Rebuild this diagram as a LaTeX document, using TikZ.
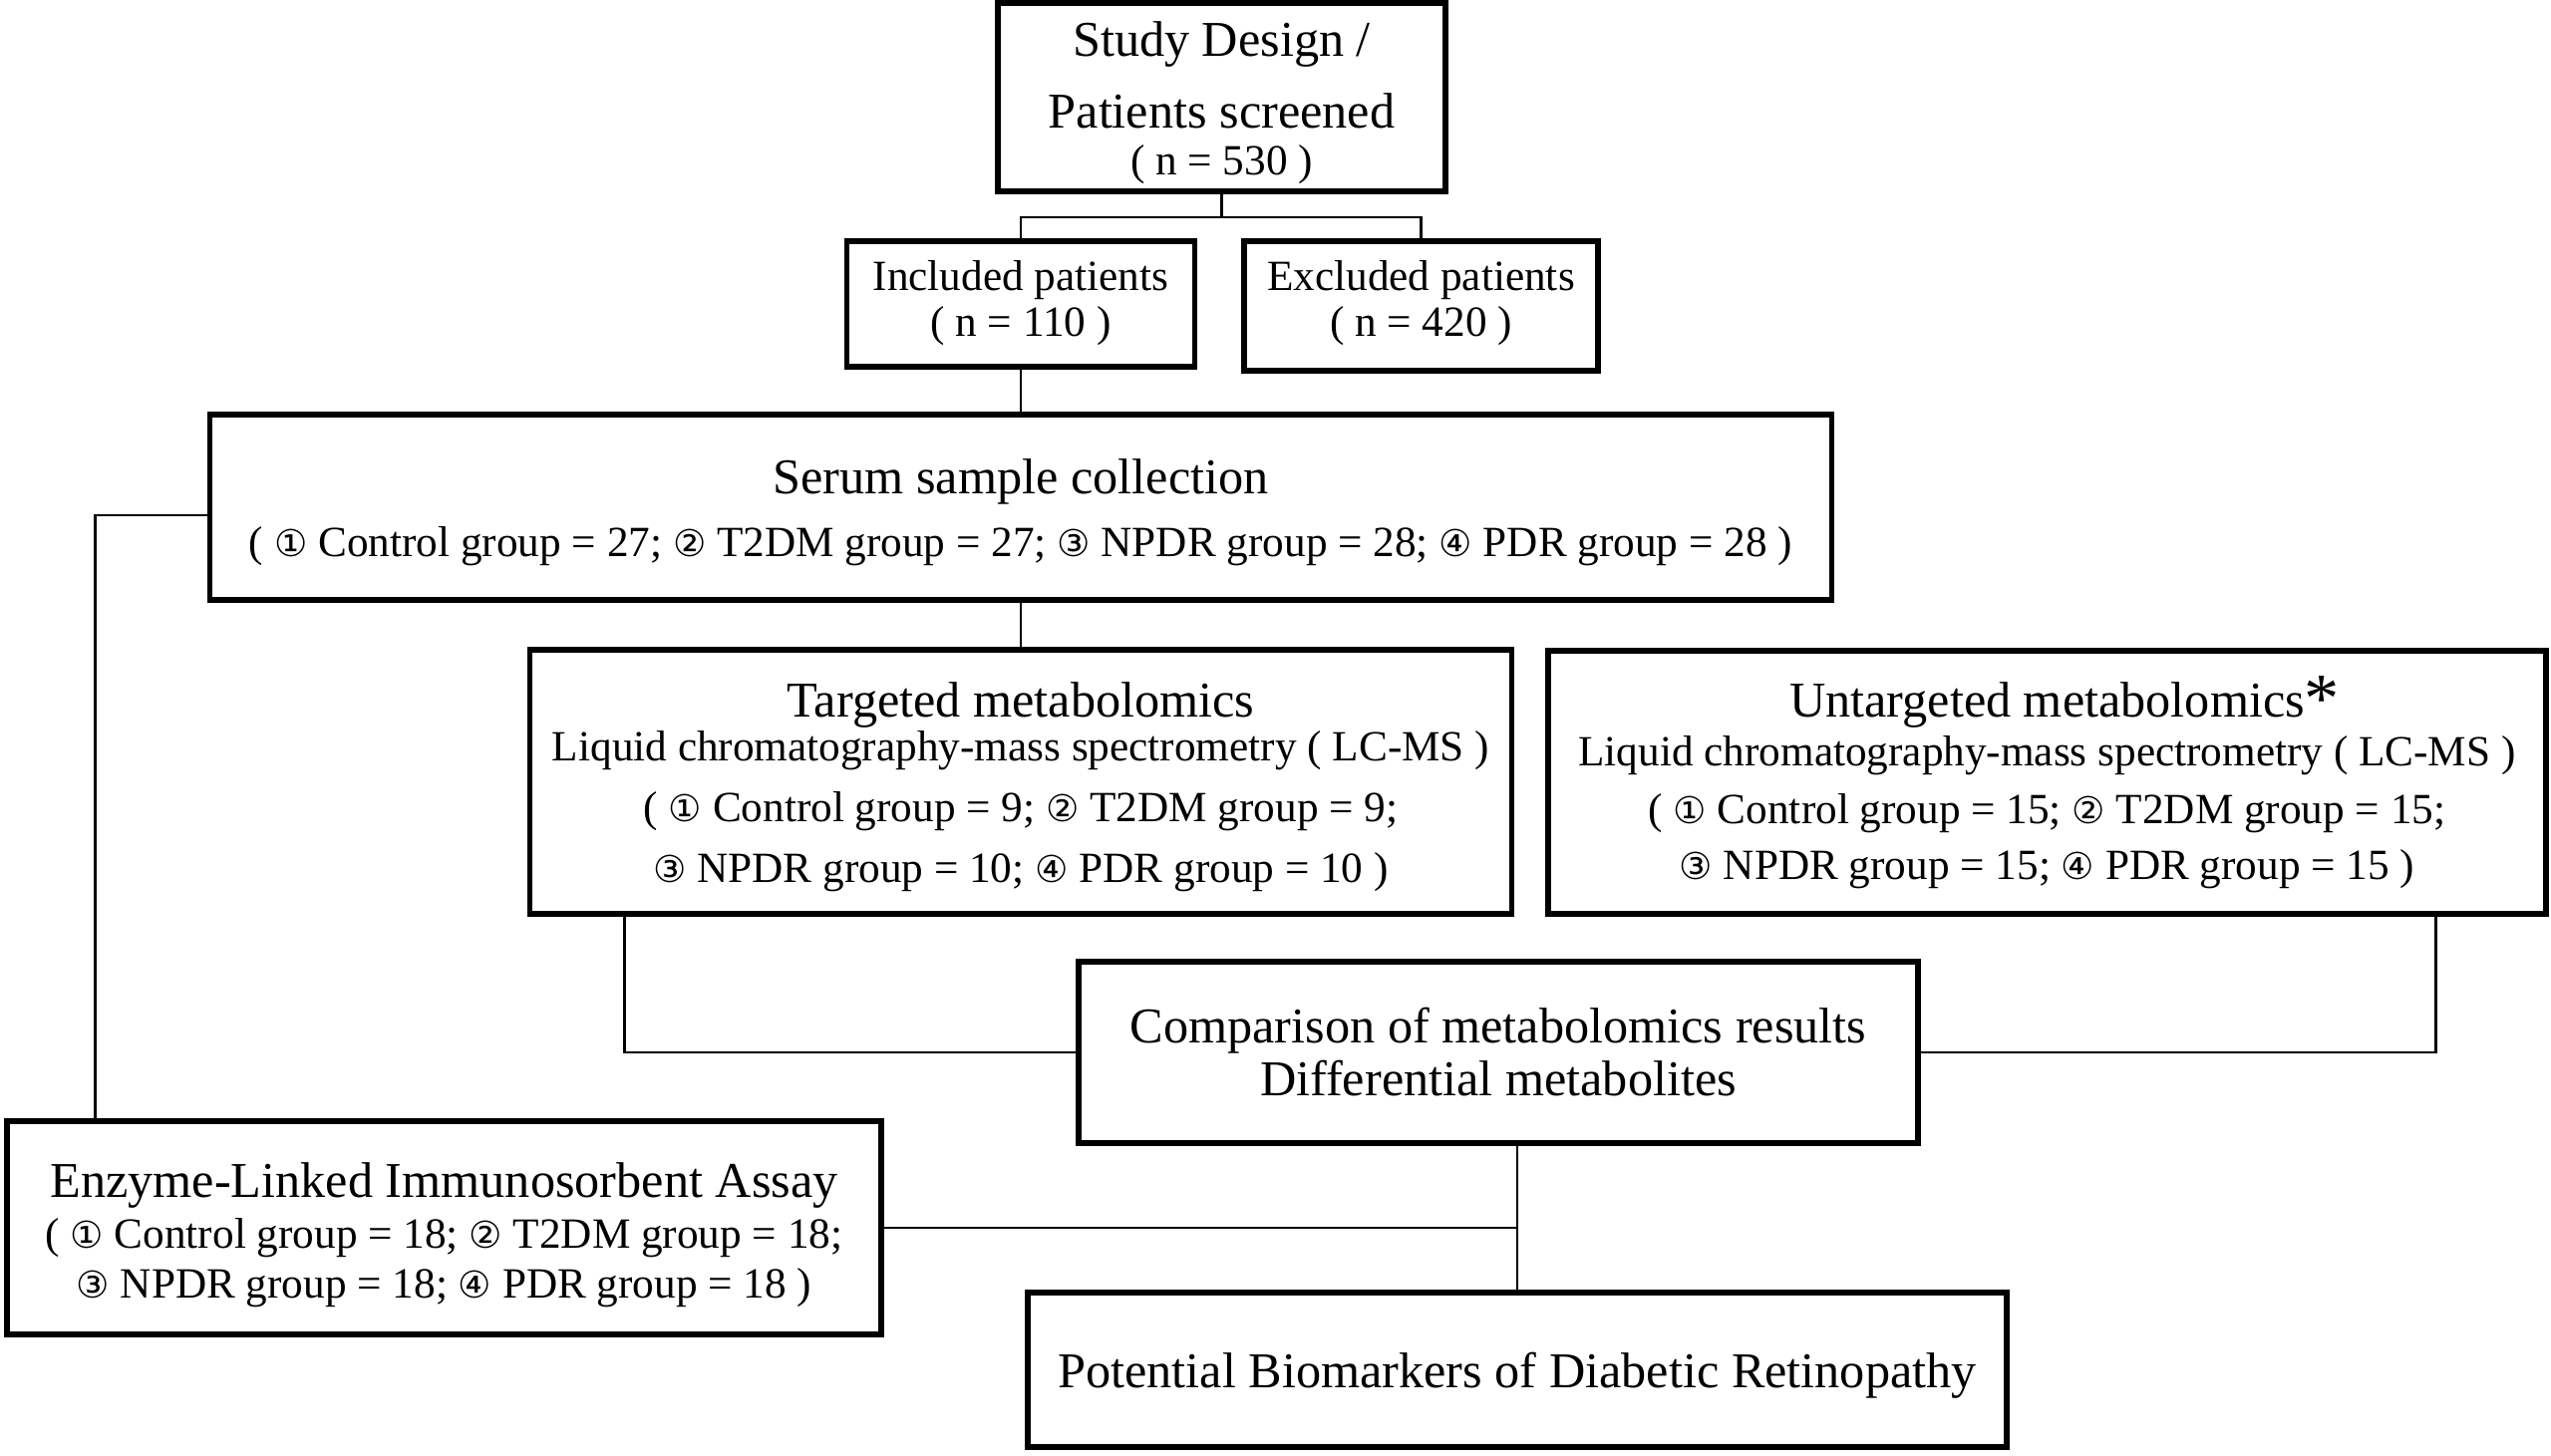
\documentclass[tikz,border=0pt]{standalone}
\usepackage{fontspec}
\setmainfont{Liberation Serif}
\newfontfamily\digfont{DejaVu Sans}[Scale=0.86]
\newcommand{\cn}[1]{{\digfont #1}}
\newcommand{\sub}{\fontsize{12.3pt}{14.5pt}\selectfont}
\newcommand{\pushdown}[1]{\rule{0pt}{#1}}
\newcommand{\pushup}[1]{\rule[-#1]{0pt}{#1}}
\usetikzlibrary{calc}
\tikzset{
    box/.style={draw, line width=1.5pt, align=center, inner sep=0pt, font=\fontsize{14.3pt}{14.5pt}\selectfont},
    link/.style={line width=0.8pt}
}

\begin{document}
\begin{tikzpicture}
    \useasboundingbox (0,0) rectangle (25.59,-14.61);

    \node (study) at (12.255,-0.975) [box, minimum width=4.49cm, minimum height=1.89cm] {\pushdown{13.1pt}Study Design /\\[6pt]Patients screened\\[-1.3pt]\sub ( n = 530 )};
    \node (incl) at (10.24,-3.05) [box, minimum width=3.49cm, minimum height=1.26cm] {\sub Included patients\\[-1.5pt]\sub ( n = 110 )\pushup{3.2pt}};
    \node (excl) at (14.255,-3.07) [box, minimum width=3.55cm, minimum height=1.30cm] {\sub Excluded patients\\[-1.5pt]\sub ( n = 420 )\pushup{4.2pt}};

    \node (serum) at (10.24,-5.09) [box, minimum width=16.27cm, minimum height=1.86cm] {\pushdown{13pt}Serum sample collection\\[3.5pt]\sub ( \cn{①} Control group = 27; \cn{②} T2DM group = 27; \cn{③} NPDR group = 28; \cn{④} PDR group = 28 )};

    \node (targ) at (10.24,-7.845) [box, minimum width=9.85cm, minimum height=2.65cm] {\pushdown{13pt}Targeted metabolomics\\[-2pt]\sub Liquid chromatography-mass spectrometry ( LC-MS )\\[2.9pt]\sub ( \cn{①} Control group = 9; \cn{②} T2DM group = 9;\\[2.7pt]\sub\cn{③} NPDR group = 10; \cn{④} PDR group = 10 )};
    \node (untarg) at (20.535,-7.85) [box, minimum width=10.01cm, minimum height=2.64cm] {\pushdown{11.6pt}Untargeted metabolomics\rlap{\raisebox{-1.5pt}[0pt][0pt]{\fontsize{20pt}{20pt}\selectfont *}}\\[-0.6pt]\sub Liquid chromatography-mass spectrometry ( LC-MS )\\[2pt]\sub ( \cn{①} Control group = 15; \cn{②} T2DM group = 15;\\[1.5pt]\sub\cn{③} NPDR group = 15; \cn{④} PDR group = 15 )};

    \node (comp) at (15.03,-10.56) [box, minimum width=8.42cm, minimum height=1.82cm] {Comparison of metabolomics results\\[0.6pt]Differential metabolites};
    \node (elisa) at (4.455,-12.32) [box, minimum width=8.77cm, minimum height=2.14cm] {\pushdown{14pt}Enzyme-Linked Immunosorbent Assay\\\sub ( \cn{①} Control group = 18; \cn{②} T2DM group = 18;\\[-0.5pt]\sub\cn{③} NPDR group = 18; \cn{④} PDR group = 18 )};
    \node (pot) at (15.22,-13.745) [box, minimum width=9.82cm, minimum height=1.55cm] {\pushdown{13.5pt}Potential Biomarkers of Diabetic Retinopathy};

    \coordinate (fork) at (12.255,-2.18);
    \draw [link] (study) -- (fork);
    \draw [link] (incl.north) |- (fork) -| (excl.north);
    \draw [link] (incl) -- (serum);
    \draw [link] (serum) -- (targ);
    \draw [link] ([xshift=0.98cm]targ.south west) |- (comp);
    \draw [link] ([xshift=-1.13cm]untarg.south east) |- (comp);
    \draw [link] ([yshift=-0.08cm]serum.west) -| ([xshift=0.91cm]elisa.north west);
    \draw [link] (comp.south -| pot.north) -- (pot.north);
    \draw [link] (elisa.east) -- (elisa.east -| pot.north);
\end{tikzpicture}
\end{document}
